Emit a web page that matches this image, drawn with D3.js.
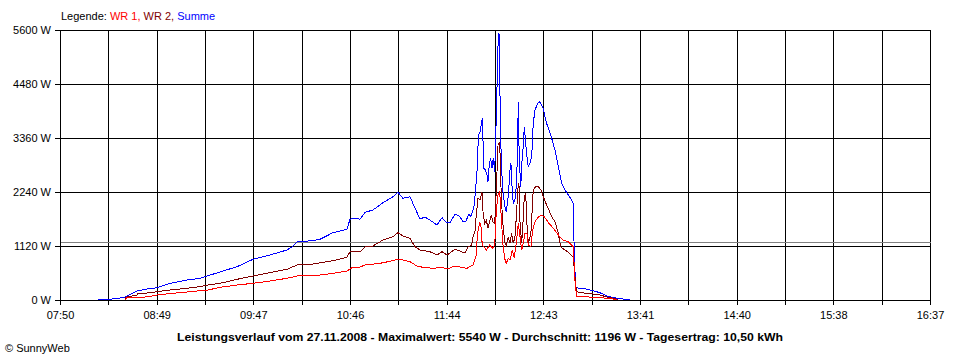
<!DOCTYPE html>
<html><head><meta charset="utf-8">
<script src="https://cdn.jsdelivr.net/npm/d3@7"></script>
<style>
body{margin:0;background:#fff}
text{font-family:"Liberation Sans",Arial,sans-serif;font-size:11px}
</style>
</head><body>
<svg id="c" width="960" height="360"></svg>
<script>
// ---------- data ----------
const xTickLabels = ["07:50","08:49","09:47","10:46","11:44","12:43","13:41","14:40","15:38","16:37"];
const yTicks = [0,1120,2240,3360,4480,5600];
const averageValue = 1196;
const legendLabels = ["WR 1", "WR 2", "Summe"];
const titleText = "Leistungsverlauf vom 27.11.2008 - Maximalwert: 5540 W - Durchschnitt: 1196 W - Tagesertrag: 10,50 kWh";
const creditText = "\u00A9 SunnyWeb";

const sumTimes = ["08:13:00","08:20:15","08:29:20","08:30:35","08:36:40","08:42:40","08:48:45","08:56:40","09:06:55","09:14:50","09:19:40","09:26:55","09:37:15","09:46:55","09:57:10","10:07:30","10:10:30","10:13:35","10:23:15","10:27:30","10:35:20","10:43:50","10:45:40","10:48:40","10:51:45","10:54:45","10:59:35","11:05:40","11:11:40","11:14:45","11:17:45","11:22:00","11:25:00","11:28:05","11:31:05","11:34:05","11:38:20","11:41:25","11:44:25","11:46:15","11:49:15","11:52:15","11:54:05","11:55:55","11:57:45","11:58:55","12:00:45","12:01:40","12:02:35","12:03:30","12:04:25","12:05:10","12:05:45","12:06:15","12:06:40","12:07:45","12:08:40","12:09:15","12:10:00","12:10:50","12:11:40","12:12:25","12:13:20","12:14:25","12:15:20","12:15:55","12:16:30","12:17:20","12:18:20","12:19:20","12:20:20","12:21:30","12:22:35","12:23:10","12:24:00","12:24:35","12:25:35","12:26:35","12:27:15","12:27:35","12:28:10","12:29:05","12:30:00","12:30:35","12:31:15","12:32:05","12:32:50","12:33:40","12:34:40","12:35:45","12:36:40","12:37:45","12:39:20","12:40:45","12:41:45","12:42:35","12:43:20","12:44:45","12:46:10","12:47:50","12:49:50","12:51:50","12:53:55","12:55:55","12:57:55","12:59:55","13:00:55","13:01:30","13:02:20","13:03:55","13:08:35","13:12:50","13:17:05","13:21:20","13:27:20","13:34:00","13:35:15"];
const sumValues = [0,15,56,83,187,228,255,346,415,450,504,581,691,844,933,1037,1099,1209,1230,1259,1396,1466,1674,1694,1674,1819,1867,2018,2142,2234,2109,2142,1908,1680,1721,1659,1556,1707,1597,1603,1784,1728,1624,1638,1784,1728,1935,2246,2661,3422,3491,3630,3768,3283,2731,2696,2593,2454,2800,2939,2738,2939,2661,3976,5289,5540,4320,2800,2246,1970,1831,2142,2696,2835,2213,2006,2074,2420,3318,4113,2972,2350,2972,3179,3594,3250,2972,2765,2835,2972,3665,3941,4080,4113,4044,3982,3872,3665,3526,3354,3111,2765,2420,2281,2178,2074,2006,969,276,243,228,193,151,83,35,10,0];

const wr2Times = ["08:29:20","08:30:00","08:36:40","08:37:25","08:42:40","08:48:45","08:56:40","09:06:55","09:14:50","09:19:40","09:26:55","09:37:15","09:46:55","09:57:10","10:07:30","10:13:35","10:23:15","10:35:20","10:43:50","10:45:40","10:51:45","10:54:45","10:59:35","11:05:40","11:11:40","11:14:45","11:17:45","11:22:00","11:25:00","11:28:05","11:34:05","11:38:20","11:41:25","11:44:25","11:49:15","11:55:20","11:57:10","11:59:20","12:00:10","12:01:20","12:02:10","12:03:10","12:04:25","12:05:35","12:06:15","12:07:15","12:08:15","12:09:15","12:10:15","12:11:15","12:12:15","12:13:20","12:14:15","12:15:20","12:16:20","12:17:20","12:18:20","12:19:20","12:20:20","12:21:30","12:22:35","12:23:35","12:24:35","12:25:35","12:26:35","12:27:15","12:28:00","12:28:40","12:29:40","12:30:25","12:31:15","12:32:05","12:32:50","12:33:40","12:35:15","12:36:40","12:38:10","12:39:40","12:41:20","12:42:45","12:44:45","12:46:10","12:47:50","12:49:50","12:51:50","12:53:15","12:55:55","12:57:55","13:00:55","13:01:55","13:02:55","13:08:35","13:12:50","13:17:05","13:21:20","13:25:35","13:28:00"];
const wr2Values = [0,56,104,139,145,172,207,243,276,311,346,429,498,566,637,726,747,815,886,1002,1002,1105,1120,1244,1313,1396,1327,1280,1105,1037,1002,933,1002,933,1052,975,1099,1141,1307,1410,1763,2109,2074,2246,1831,1591,1659,1487,1624,1763,1624,1591,2246,3215,3283,2109,1556,1209,1120,1313,1176,1383,1176,1313,1798,2281,2420,1591,1176,1591,2142,2213,1591,1176,1383,2281,2350,2350,2281,2142,1970,1867,1728,1624,1383,1105,1037,989,886,483,172,139,124,104,62,35,0];

const wr1Times = ["08:29:20","08:30:35","08:36:40","08:43:30","08:48:45","08:58:40","09:08:45","09:19:40","09:26:55","09:37:15","09:46:55","09:57:10","10:07:30","10:13:35","10:23:15","10:35:20","10:43:50","10:46:50","10:51:45","10:54:45","11:03:50","11:11:40","11:14:45","11:17:45","11:22:00","11:26:15","11:29:50","11:35:55","11:41:25","11:44:25","11:49:15","11:56:30","12:00:10","12:02:10","12:02:45","12:03:10","12:04:15","12:05:10","12:05:45","12:06:50","12:08:15","12:10:15","12:12:15","12:13:20","12:14:15","12:15:20","12:16:20","12:17:20","12:18:20","12:19:20","12:20:20","12:21:30","12:22:35","12:24:00","12:25:10","12:26:35","12:27:35","12:28:40","12:29:40","12:30:35","12:31:40","12:32:50","12:33:40","12:35:15","12:36:20","12:37:45","12:39:40","12:41:20","12:43:20","12:44:45","12:46:10","12:48:50","12:51:50","12:54:50","12:57:55","13:00:55","13:01:55","13:02:55","13:08:35","13:12:50","13:17:05","13:21:20","13:26:45","13:27:20"];
const wr1Values = [0,48,48,68,104,139,172,207,263,311,346,394,450,498,498,554,601,670,684,726,761,815,850,830,794,705,678,657,678,643,705,657,726,933,1313,1417,1624,1487,1141,1105,1037,1141,1072,1141,1831,2178,2246,1694,1141,865,761,865,830,1037,865,1244,1591,1313,1037,1176,1383,1383,1141,1105,1452,1624,1715,1763,1728,1659,1591,1487,1348,1244,1209,1105,415,68,68,52,52,35,15,0];

// ---------- chart ----------
const toMin = s => { const p = s.split(":").map(Number); return p[0]*60 + p[1] + (p[2]||0)/60; };
const svg = d3.select("#c");
svg.append("rect").attr("width",960).attr("height",360).attr("fill","#fff");

const L = 60, R = 930, T = 30, B = 300;
const t0 = toMin(xTickLabels[0]), t1 = toMin(xTickLabels[xTickLabels.length-1]);
const x = d3.scaleLinear().domain([t0, t1]).range([L, R]);
const y = d3.scaleLinear().domain([0, d3.max(yTicks)]).range([B, T]);

const nInt = (xTickLabels.length - 1) * 2;
const xTickVals = d3.range(nInt + 1).map(i => t0 + i * (t1 - t0) / nInt);

// grid
const gx = svg.append("g").attr("transform",`translate(0,${B})`)
  .call(d3.axisBottom(x).tickValues(xTickVals).tickSize(-(B-T)).tickFormat(""));
gx.select(".domain").remove();
gx.selectAll("line").attr("stroke","#000").attr("shape-rendering","crispEdges");
const gy = svg.append("g").attr("transform",`translate(${L},0)`)
  .call(d3.axisLeft(y).tickValues(yTicks).tickSize(-(R-L)).tickFormat(""));
gy.select(".domain").remove();
gy.selectAll("line").attr("stroke","#000").attr("shape-rendering","crispEdges");

// average line
svg.append("line").attr("x1",L).attr("x2",R+1)
  .attr("y1",Math.round(y(averageValue))+0.5).attr("y2",Math.round(y(averageValue))+0.5)
  .attr("stroke","#808080").attr("shape-rendering","crispEdges");

// axes
const ax = svg.append("g").attr("transform",`translate(0,${B})`)
  .call(d3.axisBottom(x).tickValues(xTickVals).tickSize(5).tickPadding(6)
    .tickFormat((d,i) => i % 2 === 0 ? xTickLabels[i/2] : ""));
const ay = svg.append("g").attr("transform",`translate(${L},0)`)
  .call(d3.axisLeft(y).tickValues(yTicks).tickSize(5).tickPadding(4).tickFormat(d => d + " W"));
[ax, ay].forEach(g => {
  g.selectAll("path,line").attr("stroke","#000").attr("shape-rendering","crispEdges");
  g.selectAll("text").attr("fill","#000").style("font-family",'"Liberation Sans",Arial,sans-serif').style("font-size","11px");
});

// series
const mk = (ts, vs) => ts.map((t,i) => ({t: toMin(t), v: vs[i]}));
const line = d3.line().x(d => x(d.t)).y(d => y(d.v));
const series = [
  {data: mk(sumTimes, sumValues), color: "#0000ff"},
  {data: mk(wr2Times, wr2Values), color: "#800000"},
  {data: mk(wr1Times, wr1Values), color: "#ff0000"}
];
series.forEach(s => {
  svg.append("path").datum(s.data).attr("d", line)
    .attr("fill","none").attr("stroke", s.color).attr("stroke-width",1)
    .attr("stroke-linejoin","miter").attr("shape-rendering","crispEdges");
});

// legend
const legColors = ["#ff0000","#800000","#0000ff"];
const leg = svg.append("text").attr("x",61).attr("y",20).style("white-space","pre");
leg.append("tspan").attr("fill","#000").text("Legende: ");
legendLabels.forEach((l,i) => leg.append("tspan").attr("fill",legColors[i])
  .text(l + (i < legendLabels.length-1 ? ", " : "")));

// title
svg.append("text").attr("x",480).attr("y",341).attr("text-anchor","middle")
  .attr("textLength",606).attr("lengthAdjust","spacingAndGlyphs")
  .style("font-weight","bold").attr("fill","#000").text(titleText);
svg.append("text").attr("x",5).attr("y",352).attr("fill","#000").text(creditText);
</script>
</body></html>
